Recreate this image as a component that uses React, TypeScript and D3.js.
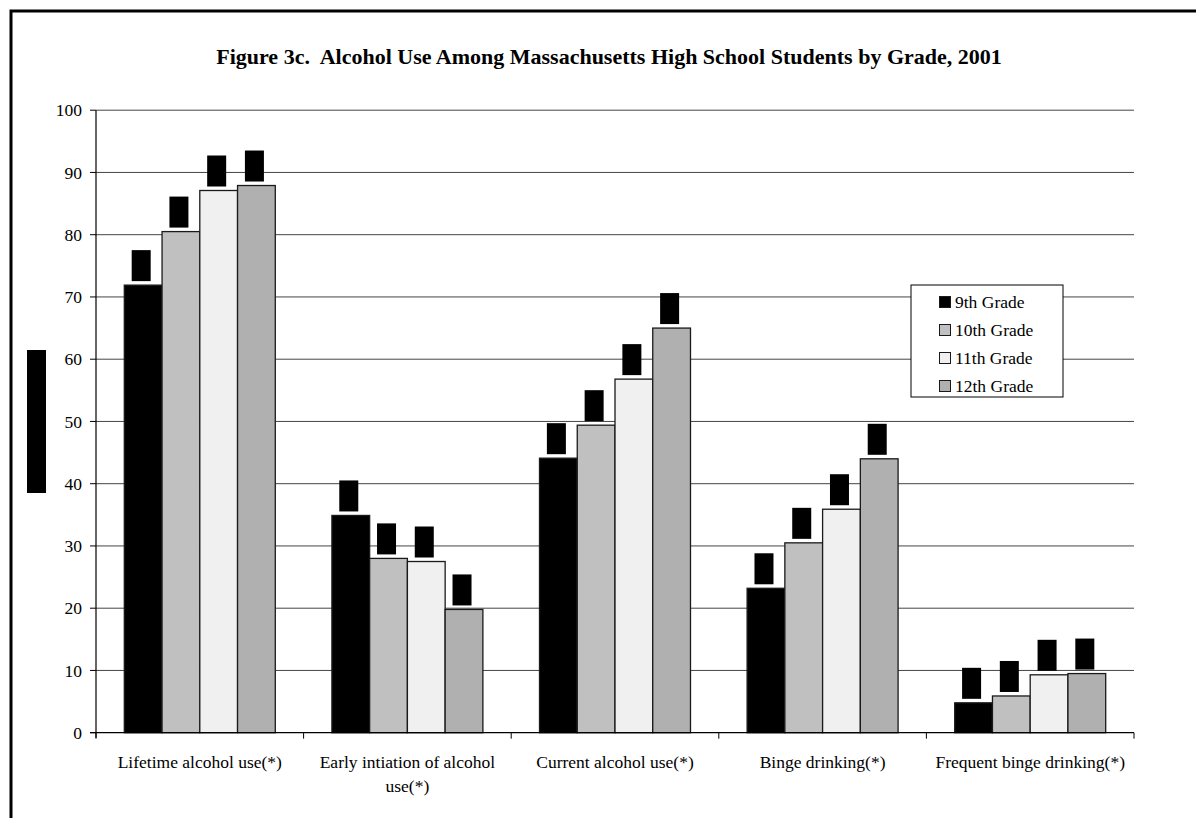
import React from "react";
import * as d3 from "d3";

const categories = [
  ["Lifetime alcohol use(*)"],
  ["Early intiation of alcohol", "use(*)"],
  ["Current alcohol use(*)"],
  ["Binge drinking(*)"],
  ["Frequent binge drinking(*)"],
];
const seriesNames = ["9th Grade", "10th Grade", "11th Grade", "12th Grade"];
const grade9 = [71.9, 34.9, 44.1, 23.2, 4.8];
const grade10 = [80.5, 28.0, 49.4, 30.5, 5.9];
const grade11 = [87.1, 27.5, 56.8, 35.9, 9.3];
const grade12 = [87.9, 19.8, 65.0, 44.0, 9.5];
const yTicks = [0, 10, 20, 30, 40, 50, 60, 70, 80, 90, 100];
const title = "Figure 3c.  Alcohol Use Among Massachusetts High School Students by Grade, 2001";

const seriesValues = [grade9, grade10, grade11, grade12];
const fills = ["#000000", "#c0c0c0", "#f0f0f0", "#b0b0b0"];

export default function App() {
  const left = 96, right = 1134, top = 110.2, bottom = 732.7;
  const font = "'Liberation Serif', 'Times New Roman', serif";
  const y = d3.scaleLinear().domain([0, 100]).range([bottom, top]);
  const x0 = d3.scaleBand<number>().domain(d3.range(categories.length)).range([left, right]).paddingInner(0).paddingOuter(0);
  const bw = x0.bandwidth() / 5.5;
  const x1 = (si: number) => 0.75 * bw + si * bw;

  return (
    <svg width={1196} height={818} style={{ position: "absolute", left: 0, top: 0, background: "#fff" }} fontFamily={font}>
      <rect x={0} y={0} width={1196} height={818} fill="#fff" />
      <rect x={11} y={11} width={1400} height={1000} fill="none" stroke="#000" strokeWidth={3} />
      <text x={609} y={64} textAnchor="middle" fontWeight="bold" fontSize={22} style={{ whiteSpace: "pre" }}>{title}</text>
      {/* redacted y-axis title */}
      <rect x={27} y={350} width={19} height={143} fill="#000" />
      {/* gridlines */}
      {yTicks.filter(t => t > 0).map(t => (
        <line key={"g" + t} x1={left} x2={right} y1={y(t)} y2={y(t)} stroke="#444" strokeWidth={1} />
      ))}
      {/* bars */}
      {categories.map((c, ci) => (
        <g key={"c" + ci}>
          {seriesValues.map((vals, si) => {
            const bx = (x0(ci) as number) + x1(si);
            const v = vals[ci];
            return (
              <g key={si}>
                <rect x={bx} y={y(v)} width={bw} height={bottom - y(v)} fill={fills[si]} stroke="#1a1a1a" strokeWidth={1.3} />
                <rect x={bx + bw / 2 - 11.5} y={y(v) - 35} width={19} height={31} fill="#000" />
              </g>
            );
          })}
        </g>
      ))}
      {/* y axis */}
      <line x1={left} x2={left} y1={top} y2={bottom + 5} stroke="#000" strokeWidth={1.2} />
      {yTicks.map(t => (
        <g key={"t" + t}>
          <line x1={left - 6} x2={left} y1={y(t)} y2={y(t)} stroke="#000" strokeWidth={1} />
          <text x={82} y={y(t)} dy="0.35em" textAnchor="end" fontSize={17.5}>{t}</text>
        </g>
      ))}
      {/* x axis */}
      <line x1={left - 6} x2={right} y1={bottom} y2={bottom} stroke="#000" strokeWidth={1.2} />
      {d3.range(categories.length + 1).map(i => {
        const xx = left + i * x0.bandwidth();
        return <line key={"xt" + i} x1={xx} x2={xx} y1={bottom} y2={bottom + 6} stroke="#000" strokeWidth={1} />;
      })}
      {categories.map((lines, ci) => (
        <text key={"xl" + ci} textAnchor="middle" fontSize={17.5}>
          {lines.map((l, li) => (
            <tspan key={li} x={(x0(ci) as number) + x0.bandwidth() / 2} y={768 + li * 24}>{l}</tspan>
          ))}
        </text>
      ))}
      {/* legend */}
      <rect x={911} y={285} width={152} height={112} fill="#fff" stroke="#000" strokeWidth={1} />
      {seriesNames.map((n, si) => (
        <g key={"l" + si}>
          <rect x={939.5} y={296.5 + si * 28} width={11} height={11} fill={fills[si]} stroke="#1a1a1a" strokeWidth={1} />
          <text x={955} y={302 + si * 28} dy="0.35em" fontSize={17.5}>{n}</text>
        </g>
      ))}
    </svg>
  );
}
